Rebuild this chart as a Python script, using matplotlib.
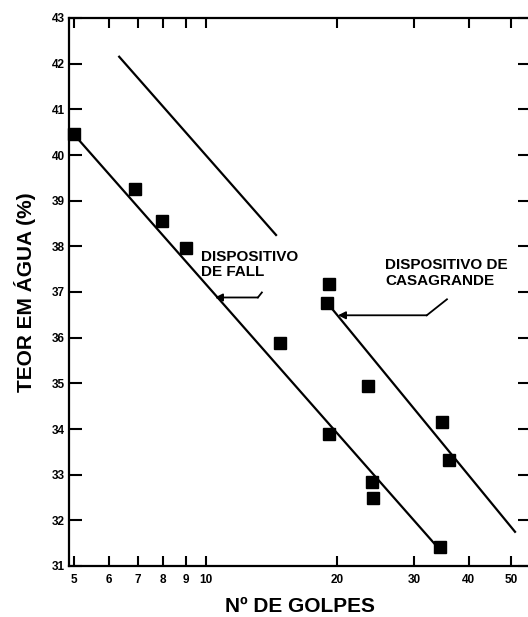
import matplotlib
matplotlib.use("Agg")
import matplotlib.pyplot as plt
from matplotlib.ticker import NullLocator

plt.rcParams['font.family'] = ['Liberation Sans', 'DejaVu Sans']

# Data: Fall cone device points
fall_golpes = [5.0, 6.9, 7.95, 9.0, 14.8, 19.2, 24.1, 24.2, 34.5]
fall_teor = [40.45, 39.25, 38.55, 37.97, 35.88, 33.9, 32.85, 32.5, 31.42]

# Casagrande device points
casa_golpes = [19.2, 19.0, 23.5, 34.8, 36.0]
casa_teor = [37.18, 36.76, 34.95, 34.15, 33.33]

# Fitted lines (endpoints)
fall_line_x = [5.0, 33.7]
fall_line_y = [40.45, 31.45]
upper_line_x = [6.32, 14.56]
upper_line_y = [42.17, 38.23]
casa_line_x = [19.0, 51.3]
casa_line_y = [36.76, 31.73]

# Annotation leader lines
fall_arrow_x = [13.46, 13.18, 10.51]
fall_arrow_y = [36.99, 36.88, 36.88]
casa_arrow_x = [35.7, 32.1, 20.1]
casa_arrow_y = [36.84, 36.49, 36.49]

x_ticks = [5, 6, 7, 8, 9, 10, 20, 30, 40, 50]
y_ticks = list(range(31, 44))

fig = plt.figure(figsize=(5.28, 6.17), dpi=100)
ax = fig.add_axes([69/528, 51/617, (531-69)/528, (566-18)/617])
ax.set_xscale('log')
ax.set_xlim(4.87, 55.6)
ax.set_ylim(31, 43)

ax.plot(fall_line_x, fall_line_y, color='black', lw=1.6, solid_capstyle='butt')
ax.plot(upper_line_x, upper_line_y, color='black', lw=1.6, solid_capstyle='butt')
ax.plot(casa_line_x, casa_line_y, color='black', lw=1.6, solid_capstyle='butt')

ax.plot(fall_golpes, fall_teor, 's', color='black', markersize=8, clip_on=False)
ax.plot(casa_golpes, casa_teor, 's', color='black', markersize=8, clip_on=False)

for xs, ys in ((fall_arrow_x, fall_arrow_y), (casa_arrow_x, casa_arrow_y)):
    ax.plot(xs[:2], ys[:2], color='black', lw=1.3)
    ax.annotate('', xy=(xs[2], ys[2]), xytext=(xs[1], ys[1]),
                arrowprops=dict(arrowstyle='-|>', lw=1.3, color='black',
                                mutation_scale=11, shrinkA=0, shrinkB=0))

ax.text(9.77, 37.93, 'DISPOSITIVO\nDE FALL', ha='left', va='top',
        fontsize=11, fontweight='bold', linespacing=1.15)
ax.text(25.8, 37.74, 'DISPOSITIVO DE\nCASAGRANDE', ha='left', va='top',
        fontsize=11, fontweight='bold', linespacing=1.15)

ax.set_xticks(x_ticks)
ax.set_xticklabels([str(t) for t in x_ticks])
ax.xaxis.set_minor_locator(NullLocator())
ax.set_yticks(y_ticks)
ax.set_yticklabels([str(t) for t in y_ticks])

ax.tick_params(axis='x', which='major', direction='in', top=True, bottom=True,
               length=7, width=1.5, labelsize=8.5, pad=6)
ax.tick_params(axis='y', which='major', direction='in', left=True, right=True,
               length=9.5, width=1.5, labelsize=8.5, pad=3)
for lbl in ax.get_xticklabels() + ax.get_yticklabels():
    lbl.set_fontweight('bold')

for s in ax.spines.values():
    s.set_linewidth(1.6)

ax.set_xlabel('Nº DE GOLPES', fontsize=15, fontweight='bold', labelpad=8)
ax.set_ylabel('TEOR EM ÁGUA (%)', fontsize=15, fontweight='bold', labelpad=11)

fig.savefig('out.png', dpi=100)
